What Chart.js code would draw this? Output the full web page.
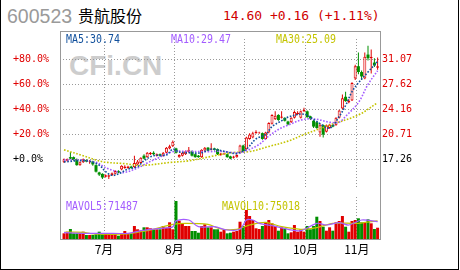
<!DOCTYPE html>
<html>
<head>
<meta charset="utf-8">
<script src="https://cdn.jsdelivr.net/npm/chart.js@4.4.0/dist/chart.umd.min.js"></script>
<style>
  body { margin: 0; background: #fff; }
  #wrap { position: relative; width: 460px; height: 270px; overflow: hidden; background: #fff; }
  #wrap div, #wrap canvas { position: absolute; }
  .frame { left: 0; top: 0; width: 459px; height: 270px; box-sizing: border-box;
           border-left: 1px solid #000; border-right: 1px solid #000; border-bottom: 1px solid #000; }
  .code { left: 7px; top: 7px; font: 19.5px/19px "Liberation Sans", Arial, sans-serif; color: #9a9a9a; }
  .name { left: 78px; top: 7px; font: 16px/16px "Noto Sans CJK SC", sans-serif; color: #000; }
  .quote { left: 223px; top: 9px; font: 13px/13px "DejaVu Sans Mono", monospace; color: #d00000; white-space: pre; }
  .wm { left: 69px; top: 52px; font: bold 28px/28px "Liberation Sans", Arial, sans-serif; color: #cdcdcd; }
  .box { left: 60px; top: 31px; width: 321px; height: 209px; box-sizing: border-box; border: 1px solid #999; }
  .lbl { font: 13px/13px "DejaVu Sans Mono", monospace; transform: scaleX(0.766); transform-origin: 0 0; white-space: pre; }
  .vlbl { font: 12px/12px "DejaVu Sans Mono", monospace; transform: scaleX(0.83); transform-origin: 0 0; white-space: pre; }
</style>
</head>
<body>
<div id="wrap">
  <div class="code">600523</div>
  <div class="name">贵航股份</div>
  <div class="quote">14.60 +0.16 (+1.11%)</div>
  <div class="wm">CFi.CN</div>
  <canvas id="price" width="460" height="166" style="left:0;top:31px"></canvas>
  <canvas id="vol" width="460" height="73" style="left:0;top:197px"></canvas>
  <div class="box"></div>
  <div class="lbl" style="left:66px;top:32px;color:#11509c">MA5:30.74</div>
  <div class="lbl" style="left:171px;top:32px;color:#a35cff">MA10:29.47</div>
  <div class="lbl" style="left:276px;top:32px;color:#c4c400">MA30:25.09</div>
  <div class="vlbl" style="left:66px;top:200px;color:#a35cff">MAVOL5:71487</div>
  <div class="vlbl" style="left:222px;top:200px;color:#c4c400">MAVOL10:75018</div>
  <div class="frame"></div>
</div>
<script>
// reference close for the percent axis
const base = 17.26;
const months = ['7月', '8月', '9月', '10月', '11月'];
const monthStart = [13, 35, 57, 76, 92];
const priceTicks = [17.26, 20.71, 24.16, 27.62, 31.07];
const pctTicks = [0, 20, 40, 60, 80];

const open = [16.9,17.1,17.6,17.6,17.3,16.5,16.9,17.2,17.0,17.0,
  16.5,15.5,15.3,14.9,14.9,15.1,15.3,15.7,15.9,16.1,
  16.1,16.3,16.2,16.6,16.8,17.8,17.6,18.0,18.2,17.8,
  18.0,17.8,18.2,18.8,19.1,18.8,17.6,17.8,18.0,18.3,
  18.4,18.0,17.8,17.6,18.5,18.9,18.6,18.8,18.7,17.9,
  18.0,18.0,17.7,17.5,17.6,18.2,19.2,18.7,20.1,20.3,
  20.9,20.9,20.9,20.1,21.0,22.2,22.8,23.4,23.0,23.0,
  22.5,22.4,23.0,23.5,23.0,23.9,23.9,23.2,22.6,22.4,
  21.0,22.0,21.1,21.6,22.0,22.0,23.0,24.3,25.9,25.1,
  25.4,28.4,30.1,29.3,28.4,31.7,31.2,30.6,29.9];
const high = [17.4,17.4,18.3,17.7,17.4,17.0,17.4,17.3,17.2,17.1,
  16.6,15.6,15.4,15.2,15.2,15.5,15.8,15.8,16.5,16.5,
  16.4,16.4,17.8,17.2,17.6,18.0,18.3,18.3,18.4,18.1,
  18.1,18.3,19.0,19.3,19.9,18.9,18.0,18.3,18.5,19.0,
  18.5,18.1,17.9,18.7,19.0,19.0,19.5,18.9,18.8,18.2,
  18.2,18.1,17.8,17.8,18.0,19.3,19.3,20.4,20.9,21.1,
  21.3,21.1,21.0,21.1,22.4,23.5,23.9,23.5,23.9,23.1,
  22.6,23.1,24.0,23.9,24.0,24.4,24.0,23.3,22.7,22.5,
  22.2,22.1,22.1,22.2,22.1,23.1,24.1,26.2,26.6,25.6,
  27.9,30.3,32.0,29.5,32.0,32.9,32.4,31.2,31.3];
const low = [16.8,17.0,17.3,17.1,16.4,16.4,16.8,16.9,16.7,16.4,
  15.5,15.0,14.6,14.8,14.6,15.0,15.2,15.4,15.8,16.0,
  16.0,16.0,16.1,16.5,16.7,17.3,17.5,17.9,17.9,17.7,
  17.7,17.7,18.1,18.7,19.0,18.1,17.5,17.7,17.9,18.2,
  17.7,17.5,17.5,17.5,18.4,18.4,18.5,18.5,17.9,17.8,
  17.9,17.5,17.3,17.4,17.5,18.1,18.3,18.6,20.0,20.2,
  20.8,20.8,20.0,20.0,20.9,22.1,22.7,22.6,22.9,22.5,
  22.0,22.3,22.9,23.4,22.9,23.8,23.0,22.7,21.6,21.5,
  20.4,20.3,21.0,21.5,21.7,21.9,22.9,24.2,25.2,25.0,
  25.3,28.2,29.0,28.2,28.3,30.9,29.1,30.0,29.6];
const close = [17.3,17.3,17.4,17.2,16.5,16.9,17.3,17.0,17.1,16.6,
  15.6,15.2,14.8,15.1,15.1,15.4,15.7,15.5,16.4,16.3,
  16.3,16.1,16.8,17.0,17.5,17.4,18.2,18.2,18.0,18.0,
  17.8,18.2,18.9,19.1,19.7,18.2,17.9,18.2,18.4,18.6,
  17.8,17.6,17.6,18.6,18.9,18.5,18.8,18.6,18.0,18.1,
  18.1,17.6,17.4,17.7,17.9,19.2,18.4,20.3,20.7,20.9,
  21.1,21.0,20.1,21.0,22.3,23.4,23.3,22.7,23.2,22.6,
  22.1,23.0,23.8,23.7,23.9,24.1,23.1,22.9,21.8,21.6,
  22.0,20.7,22.0,22.1,21.8,23.0,24.0,25.7,25.3,25.4,
  27.8,30.1,29.3,28.7,31.4,31.2,31.4,30.2,30.1];
const volume = [23500,30200,41300,23500,23500,23500,30200,16500,16500,16500,
  19400,30200,19400,23500,23500,20700,19400,13600,23500,33000,
  23500,23500,53700,40100,34300,48300,48300,44200,40100,40100,
  40100,53700,46700,69000,40100,156900,75600,64800,53700,53700,
  33000,33000,26000,53700,60700,48300,48300,40100,40100,30200,
  37200,23500,26000,30200,33000,71400,53700,119800,95000,78500,
  44200,41300,53700,69000,78500,64800,53700,34300,48300,44200,
  23500,27700,57800,30200,40100,30200,53700,40100,53700,92100,
  74300,50800,34300,48300,34300,69000,74300,95000,50800,30200,
  74300,78500,85500,69000,69000,81400,64800,41300,46700];

// moving averages: [day index, value]
const ma5 = [[0,16.95],[7,17.1],[11,16.5],[13,15.6],[15,15.1],[17,15.3],[20,15.95],[23,16.3],[25,17.1],
  [28,17.8],[32,17.9],[34,18.7],[36,18.3],[39,18.2],[43,18.2],[46,18.7],[52,18.2],[54,18.1],[57,18.7],
  [60,20.1],[63,20.7],[65,21.8],[68,22.6],[70,23.1],[75,23.5],[79,22.5],[83,21.6],[86,23.2],[88,24.7],
  [90,26.6],[92,27.8],[95,29.3],[98,30.74]];
const ma10 = [[0,17.2],[5,17.2],[10,16.9],[12,16.4],[14,15.96],[17,15.55],[19,15.5],[23,16.1],[26,16.8],
  [30,17.6],[34,18.35],[38,18.4],[45,18.35],[49,18.4],[55,18.2],[58,18.66],[61,19.36],[64,20.5],
  [67,21.4],[70,22.0],[75,22.8],[79,22.8],[83,22.4],[86,22.4],[88,23.2],[92,25.1],[95,27.6],[98,29.47]];
const ma30 = [[0,18.6],[6,17.8],[10,17.2],[13,16.9],[19,16.7],[24,16.45],[33,16.86],[39,17.1],[46,17.7],
  [52,18.2],[58,18.36],[64,19.07],[70,19.8],[75,20.7],[83,22.0],[92,23.4],[98,25.09]];
const mavol5 = [[0,26000],[6,23500],[13,23500],[20,23500],[24,34300],[30,44200],[34,50000],[35,75000],
  [39,78500],[42,50800],[47,50800],[51,37200],[55,40100],[57,78500],[59,78500],[61,64800],[65,54900],
  [70,40100],[74,34300],[79,64800],[82,57800],[86,67300],[89,57800],[93,78500],[98,71487]];
const mavol10 = [[0,27700],[6,27700],[9,20700],[20,20700],[24,30200],[28,40100],[34,60700],[38,64800],
  [45,60700],[49,41300],[54,40100],[58,57800],[63,69000],[68,50800],[74,40100],[79,46700],[84,64800],
  [92,64800],[98,75018]];

const RED = '#e00000', GREEN = '#008f00';
const xMin = -1.25, xMax = 98.75;
const priceMin = 13.22, priceMax = 33.84, volMax = 173500;

const up = close.map((c, i) => c >= open[i]);
const pts = arr => arr.map(p => ({ x: p[0], y: p[1] }));
const monthTicks = () => monthStart.map(m => ({ value: m - 0.5 }));
const monoFont = { family: 'DejaVu Sans Mono', size: 10 };
const maLine = (data, color) => ({
  type: 'line', data: pts(data), borderColor: color, borderWidth: 1.6, borderDash: [1.6, 1.6],
  pointRadius: 0, tension: 0.35, yAxisID: 'y', order: 0
});

Chart.defaults.animation = false;

new Chart(document.getElementById('price'), {
  type: 'bar',
  data: {
    datasets: [
      maLine(ma5, '#11509c'),
      maLine(ma10, '#a35cff'),
      maLine(ma30, '#c4c400'),
      { data: open.map((o, i) => ({ x: i, y: [o, close[i]] })), yAxisID: 'y', grouped: false, barThickness: 3, order: 1,
        backgroundColor: up.map(u => u ? '#fff' : GREEN), borderColor: up.map(u => u ? RED : GREEN),
        borderWidth: up.map(u => u ? 1 : 0), borderSkipped: false, inflateAmount: 0 },
      { data: low.map((l, i) => ({ x: i, y: [l, high[i]] })), yAxisID: 'y', grouped: false, barThickness: 1, order: 2,
        backgroundColor: up.map(u => u ? RED : GREEN), borderWidth: 0, inflateAmount: 0 }
    ]
  },
  options: {
    responsive: false,
    layout: { padding: { left: 13, right: 0, top: 0, bottom: 0 } },
    plugins: { legend: { display: false }, tooltip: { enabled: false } },
    scales: {
      x: {
        type: 'linear', min: xMin, max: xMax, offset: false,
        afterBuildTicks: s => { s.ticks = monthTicks(); },
        afterFit: s => { s.height = 0; },
        ticks: { display: false },
        grid: { color: '#999', drawTicks: false, offset: false },
        border: { display: false, dash: [1, 2] }
      },
      yp: {
        position: 'left', min: (priceMin / base - 1) * 100, max: (priceMax / base - 1) * 100,
        afterBuildTicks: s => { s.ticks = pctTicks.map(v => ({ value: v })); },
        afterFit: s => { s.width = 47; },
        grid: { display: false }, border: { display: false },
        ticks: {
          crossAlign: 'far', padding: 0, font: monoFont,
          color: c => c.tick.value === 0 ? '#000' : RED,
          callback: v => '+' + v.toFixed(1) + '%'
        }
      },
      y: {
        position: 'right', min: priceMin, max: priceMax,
        afterBuildTicks: s => { s.ticks = priceTicks.map(v => ({ value: v })); },
        afterFit: s => { s.width = 80; },
        grid: { color: '#999', drawTicks: false },
        border: { display: false, dash: [1, 2] },
        ticks: {
          padding: 2, font: monoFont,
          color: c => c.index === 0 ? '#000' : RED,
          callback: v => v.toFixed(2)
        }
      }
    }
  }
});

new Chart(document.getElementById('vol'), {
  type: 'bar',
  data: {
    datasets: [
      { type: 'line', data: pts(mavol5), borderColor: '#a35cff', borderWidth: 1.2, pointRadius: 0, tension: 0.3, order: 0 },
      { type: 'line', data: pts(mavol10), borderColor: '#c4c400', borderWidth: 1.2, pointRadius: 0, tension: 0.3, order: 0 },
      { data: volume.map((v, i) => ({ x: i, y: v })), grouped: false, barThickness: 3, order: 1,
        backgroundColor: up.map(u => u ? RED : GREEN), borderWidth: 0, inflateAmount: 0 }
    ]
  },
  options: {
    responsive: false,
    layout: { padding: { left: 60, right: 80, top: 0, bottom: 0 } },
    plugins: { legend: { display: false }, tooltip: { enabled: false } },
    scales: {
      x: {
        type: 'linear', min: xMin, max: xMax, offset: false,
        afterBuildTicks: s => { s.ticks = monthTicks(); },
        afterFit: s => { s.height = 31; },
        grid: { color: '#999', drawTicks: false, offset: false },
        border: { display: false, dash: [1, 2] },
        ticks: {
          padding: 3, maxRotation: 0, autoSkip: false, color: '#000',
          font: { family: 'Noto Sans CJK SC', size: 12 },
          callback: (v, i) => months[i]
        }
      },
      y: { display: false, min: 0, max: volMax }
    }
  }
});
</script>
</body>
</html>
